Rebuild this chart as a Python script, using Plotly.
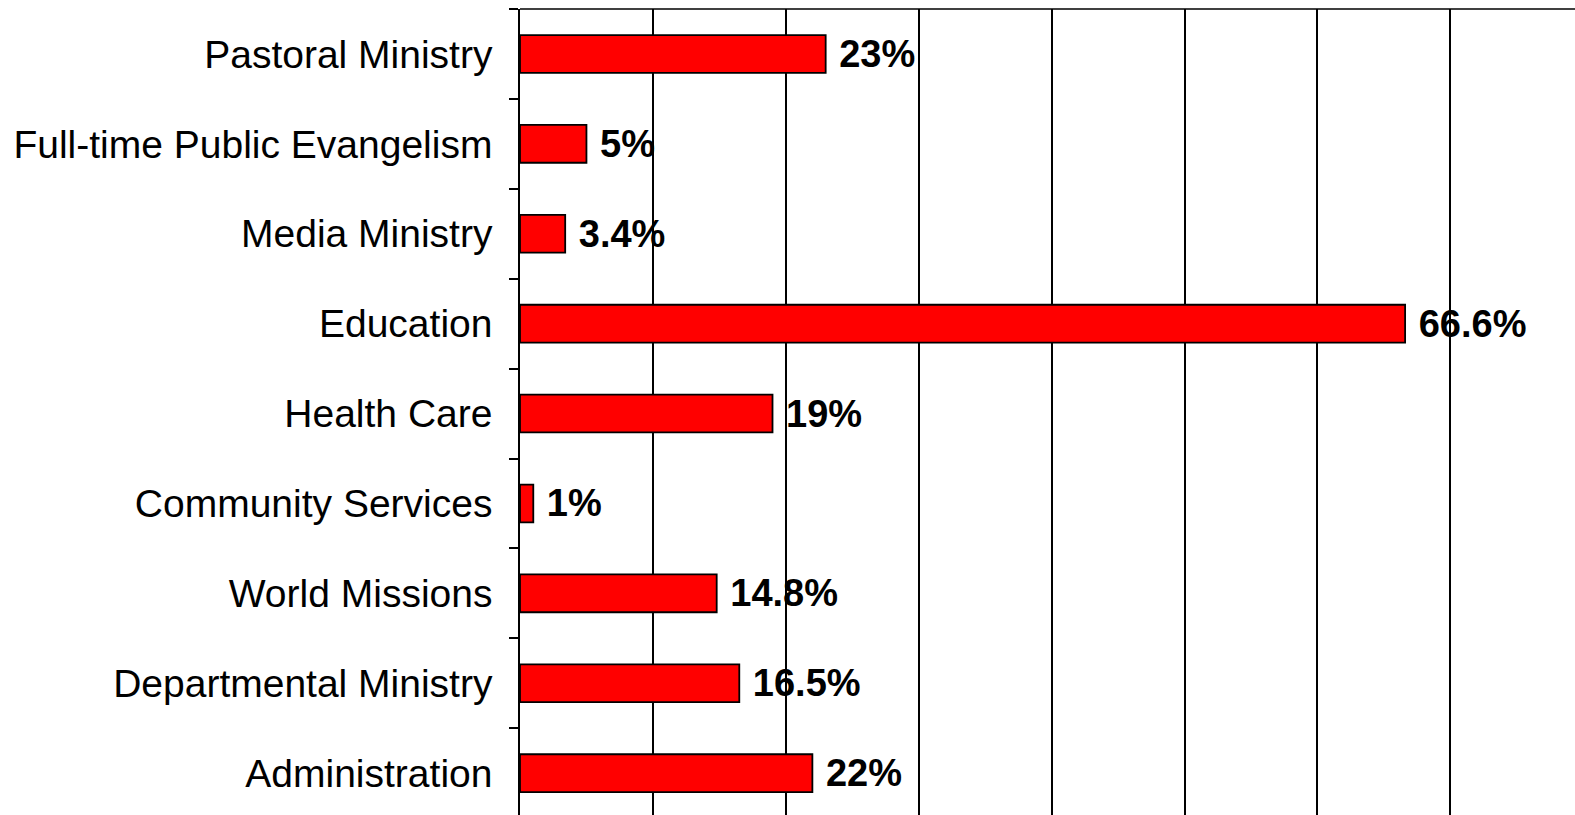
import plotly.graph_objects as go

categories = [
    "Pastoral Ministry",
    "Full-time Public Evangelism",
    "Media Ministry",
    "Education",
    "Health Care",
    "Community Services",
    "World Missions",
    "Departmental Ministry",
    "Administration",
]
values = [23, 5, 3.4, 66.6, 19, 1, 14.8, 16.5, 22]
labels = [f" {v:g}%" for v in values]

W, H = 1575, 815
left, top = 520, 9
px_per_unit_x = 13.29
band_px = 89.9

fig = go.Figure(
    go.Bar(
        x=values,
        y=categories,
        orientation="h",
        width=0.42,
        marker=dict(color="#FF0000", line=dict(color="black", width=1.8)),
        text=labels,
        textposition="outside",
        constraintext="none",
        textfont=dict(family="Liberation Sans", size=38, color="black", weight="bold"),
        cliponaxis=False,
        hoverinfo="skip",
    )
)

fig.update_layout(
    width=W,
    height=H,
    margin=dict(l=left, r=0, t=top, b=0),
    paper_bgcolor="white",
    plot_bgcolor="white",
    showlegend=False,
    font=dict(family="Liberation Sans", color="black"),
)

fig.update_xaxes(
    range=[0, (W - left) / px_per_unit_x],
    dtick=10,
    tick0=0,
    showgrid=True,
    gridcolor="black",
    gridwidth=1.5,
    zeroline=False,
    showticklabels=False,
    ticks="",
    showline=False,
)

fig.update_yaxes(
    type="category",
    categoryorder="array",
    categoryarray=categories,
    range=[-0.5 + (H - top) / band_px, -0.5],
    showline=True,
    linecolor="black",
    linewidth=1.5,
    ticks="outside",
    tickson="boundaries",
    ticklen=9,
    tickwidth=1.5,
    tickcolor="black",
    ticklabelstandoff=18,
    tickfont=dict(family="Liberation Sans", size=39, color="black"),
    showgrid=False,
    zeroline=False,
)

fig.add_shape(
    type="line", xref="paper", yref="paper",
    x0=0, x1=1, y0=1, y1=1,
    line=dict(color="black", width=1.5),
)

fig.write_html(
    "out.html",
    config={"displayModeBar": False},
    post_script="document.body.style.margin='0';document.body.style.overflow='hidden';",
)
